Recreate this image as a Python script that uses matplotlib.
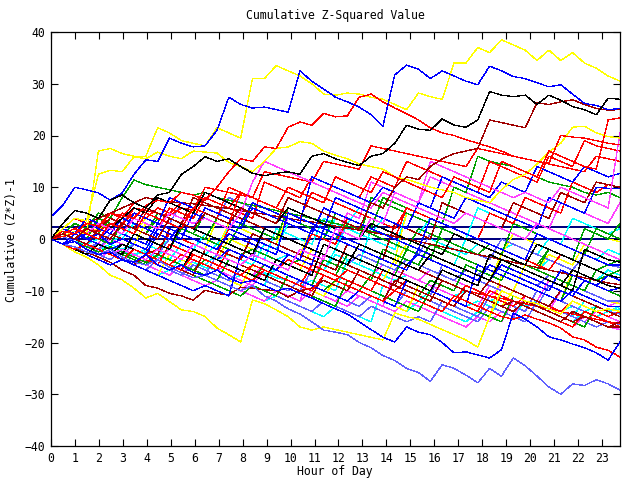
import numpy as np
import matplotlib
matplotlib.use("Agg")
import matplotlib.pyplot as plt

TITLE = "Cumulative Z-Squared Value"
XLABEL = "Hour of Day"
YLABEL = "Cumulative (Z*Z)-1"
X_TICKS = list(range(0, 24))
Y_TICKS = [-40, -30, -20, -10, 0, 10, 20, 30, 40]
X_END = 23.75
REF_LEVELS = [0.0, 2.3]

# half-hour samples from hour 0 to 23.75
yellow_top = [0,1,2,1,17, 17.5,16.5,16,16,21.5, 20.5,19,18.5,18,21.5, 20.5,19.5,31,31,33.5, 32.5,31.5,30,28,27.8, 28.2,28,27.4,27,26, 25,28.2,27.5,27,34, 34,37,36,38.5,37.5, 36.5,34.5,36.5,34.5,36, 34,33,31.5,30.5]
yellow_bottom = [0,-1,-2.5,-3.5,-5, -7,-7.9,-9.5,-11.4,-10.5, -12.1,-13.7,-14,-15,-17.2, -18.5,-19.9,-11.8,-12.5,-13.7, -15,-17,-17.6,-17,-17.5, -18,-18.5,-19,-19.5,-14.3, -15,-15.5,-16.5,-17.5,-18.5, -19.5,-20.9,-15,-10,-11, -12,-12.5,-13.5,-14.5,-12, -13,-14,-13.5,-14]
blue_top = [4.3,6.5,10,9.5,8.9, 7.5,8.9,12.5,15.3,15, 19.5,18.5,17.8,18,21, 27.4,26,25.3,25.5,25, 24.5,32.5,30.5,29,27.4, 26.5,25.5,24,21.8,31.7, 33.6,32.8,31,32.5,31.5, 30.5,29.8,33.4,32.5,31.4, 31,30.2,29.4,29.8,28, 26.2,25.8,25,25.2]
black_top = [0,3,5.5,5,4, 7.5,8.5,7,6,8.5, 9,12.5,14,15.9,15, 15.5,14,12.7,12.2,12.7, 13,12.5,16,16.5,15.5, 14.8,14.2,16,16.5,18.5, 22,21.2,21,23.2,22, 21.6,23,28.5,27.8,27.5, 27.8,26,27.8,26.8,25.6, 25,24,27.2,27]
slate_bottom = [0,-1,-1.5,-2.5,-3, -2,-3.5,-4.5,-5,-4, -5.5,-6.5,-7.5,-7,-8, -9,-10,-9,-11,-12, -13.5,-14.5,-16,-17.6,-18, -18.5,-20,-21,-22.5,-23.5, -25,-25.8,-27.5,-24.3,-25, -26.3,-27.8,-25,-26.5,-23, -24.5,-26.5,-28.6,-30,-28, -28.3,-27.2,-28,-29.2]
blue_low = [0,-1,-0.5,-2,-3, -2.5,-4,-4.5,-3,-5, -6,-5,-6.5,-7,-6, -7.5,-8.5,-8,-9,-10, -9.5,-10.5,-11.4,-12.5,-13.5, -14.5,-16,-17.5,-19,-19.9, -17,-18,-18.5,-20,-22, -21.8,-22.4,-23,-21.4,-14.3, -15.5,-17,-18.9,-19.5,-20.3, -21,-22,-23.4,-19.9]
red_1 = [0,1.5,1,3,2.5, 5,4.5,4,6.5,7.5, 7,9,8.5,7.5,10, 13,15.5,15,17.8,17.5, 21.6,22.6,22,24.3,23.6, 23.8,27.4,28,26.5,25.3, 24.2,23,21.5,20.5,20, 19.2,18.5,17.8,17,16, 15.5,15,14.6,20,19.7, 19.5,19,18.5,18.2]
darkred_1 = [0,1,0,2,1, 0,3,2,1,0, 4,3,2,5,4, 3,6,5,4,3, 8,7,6,5,4, 3,2,7,6,10, 12,11.5,14,15.5,16.5, 17,17.5,23,22.5,22, 21.5,26.3,26,26.5,26.9, 26,25.2,24.9,25]
red_bottom = [0,-1,-2,-1,-2, -3,-4,-2,-3,-4, -5,-6,-3,-4,-5, -6,-7,-5,-6,-7, -8,-9,-10,-7,-8, -9,-10,-11,-12,-10, -11,-12,-13,-14,-11, -12,-13,-14,-15,-15.5, -14.7,-15.5,-16.2,-17.2,-18.9, -19.5,-20.9,-21.5,-22.8]
red_jump = [0,1,2,1,0, 3,2,1,5,4, 3,2,6,5,4, 3,9,8,7,6, 10,9,8,7,12, 11,10,9,13,12, 11,10,9,8,12, 11,10,9,15,14, 13,12,17,16,15, 14,13.5,23,23.4]
yellow_2 = [0,2,4,3.5,12.5, 13.3,13,15.9,15.5,16.8, 16,15.5,17,16.8,16.6, 14.8,14,13,15,17.5, 17.8,18.8,18.5,17,16.2, 15.5,14.5,14,13.5,12, 11.5,10.8,10,9.5,9, 8,7.5,7,9.5,11.5, 12.5,14.5,16.8,18.5,21.6, 21.8,20.5,19.8,19.5]
red_i1 = [0,-1,-2,-1,-2, -3,-4,-2,-3,-4, -5,-3,-4,-5,-6, -2,-3,-4,-5,-6, -4,-5,-6,-7,-8, -6,-7,-8,-9,-10, -8,-9,-10,-11,-12, -9,-10,-11,-12,-13, -11,-12,-13,-14,-12, -13,-14,-15,-14]
green_i2 = [0,2,1,0,4, 3,2,1,5,4, 3,2,1,0,4, 3,2,7,6,5, 4,3,2,1,0, 3,2,1,0,-1, -2,2,1,0,-1, -2,-3,-1,-2,-3, -4,-5,-2,-3,-4, -5,-6,-7,-6]
blue_i3 = [0,-1,1,0,-1, -2,-1,-2,-3,1, 0,-1,-2,-3,-4, -2,-3,-4,-5,-6, -3,-4,-5,2,1, 0,-1,-2,-3,-4, -5,-3,-4,-5,-6, -7,-8,-5,-6,-7, -8,-9,-10,-6,-7, -8,-9,-7,-8]
magenta_i4 = [0,1,0,-1,-2, 0,-1,-2,-3,-4, -2,-3,-4,-5,-6, -5,-6,-7,-5,-6, -7,-8,-9,-3,-4, -5,-6,-7,-5,-6, -7,-8,-6,-7,-8, -9,-10,-11,-9,-10, -11,-12,-8,-9,-10, -11,-12,-13,-12]
magenta_1 = [0,1,2,1,3, 2,1,4,3,2, 5,4,3,4,3, 2,5,11,15,14, 13,12,11,10,9, 8,7,6,9,8, 7,6,5,4,3, 5,4,3,2,1, 0,3,2,1,0, -1,-2,-3,-4]
magenta_2 = [0,-1,-2,-1,-2, -3,-2,-3,-4,-2, -3,-4,-1,-2,-3, -4,-5,-3,-4,-5, -6,-2,-3,-4,2, 1,0,4,3,9, 8,7,15,14,13, 12,11,10,9,8, 9,8,7,10,9, 8,7,6,20.5]
cyan_1 = [0,-1,-2,-1,-2, -3,-4,-3,-4,-5, -6,-4,-5,-6,-7, -8,-7,-8,-9,-4, -3,-4,-5,-6,-2, 3,2,1,4,3, 2,1,0,-1,-2, -3,-1,-2,-3,-4, -5,-6,-4,-5,-6, -7,-8,-6,-7]
cyan_2 = [0,1,0,-1,0, -1,-2,-1,-2,-3, -2,-3,-4,-5,-3, -4,-5,-6,-7,-6, -7,-8,-9,-10,-11, -12,-10,-11,-12,-13, -14,-12,-13,-14,-15, -16,-14,-15,-11,-12, -13,-12,-13,-14,-15, -12,-13,-14,-13]
cyan_3 = [0,1,2,1,0, -1,1,0,-1,-2, 0,-1,-2,-3,-1, 2,1,0,-1,-2, 3,2,1,0,4, 3,6,5,4,3, 2,1,4,3,2, 1,0,-1,-2,-1, -2,-3,0,-1,-2, -3,-4,-2,-3]
green_top = [0,-1,0,1,0, -1,3,2,1,4, 3,2,1,5,4, 3,2,6,5,4, 3,2,1,0,5, 4,3,2,8,7, 6,5,4,3,10, 9,16,15,14.5,14, 13,12,11,10.5,10, 9,8.5,9,8]
green_low = [0,-1,-2,-3,-1, -2,-3,-4,-5,-3, -4,-5,-6,-4,-5, -6,-7,-8,-5,-6, -7,-8,-9,-10,-8, -9,-10,-7,-8,-9, -10,-11,-8,-9,-10, -5,-6,-7,-8,-4, -5,-6,-7,-8,-9, -10,-6,-5,-4]
green_1 = [0,1,3,2,5, 4,8,11.4,10.5,10, 9.5,9,8.5,9,8, 7.5,7,6.5,6,5.5, 5,4.5,4,3.5,3, 2.5,2,1.5,1,0.5, 0,-0.5,-1,-1.5,-2, -2.5,-3,-3.5,-4,-4.5, -5,-5.5,-6,-6.5,-7, -7.5,-8,-7,-7.5]
darkred_diag = [0,1,2,3,4, 5,6,7,8,7.5, 7.2,7,6.8,6.5,6.2, 5.9,5.5,5.1,4.8,4.4, 4,3.6,3.3,2.9,2.5, 2.1,1.7,1.3,0.9,0.5, 0,-0.5,-1,-1.5,-2, -2.5,-3,-3.5,-4,-4.5, -5,-5.5,-6,-6.5,-7, -7.5,-8,-8.5,-8.8]
red_diag = [0,2,1,3,2, 4,3,5,4,6, 5,7,6,8,7, 6,9,8,7,6, 5,4,3,2,1, 0,-1,-2,-3,-4, -5,-6,-7,-8,-9, -10,-10.5,-11,-11.5,-12, -12.5,-13,-13.5,-14,-14.5, -15,-15.5,-16,-16.3]
darkred_2 = [0,-1,-2,-2.5,-3.5, -4.5,-6,-7,-9,-9.5, -10.5,-11,-11.8,-9.9,-10.5, -10.8,-9.3,-9.5,-9.8,-10, -11.2,-10,-9.5,-8,-9, -10,-6,-7,-8,-9, -5,-6,-7,-8,-9, -10,-11,-8,-9,-10, -11,-12,-13,-10,-11, -12,-13,-14,-15]
slate_2 = [0,-1,-2,-3,-2, -3,-4,-5,-6,-4, -5,-6,-7,-8,-9, -10,-11,-9,-10,-11, -12,-13,-14,-12,-13, -14,-15,-13,-14,-15, -16,-15,-16,-12,-13, -14,-15,-11,-12,-13, -14,-10,-11,-12,-13, -14,-15,-16,-16.5]
slate_3 = [0,1,0,-1,-2, 1,0,-1,-2,-3, 0,-1,-2,-3,-4, -2,-3,-4,2,1, 0,-1,-2,-3,-4, -5,-3,-4,-5,-6, -4,-5,-6,-7,-8, -6,-7,-5,-6,-7, -8,-9,-7,-8,-9, -10,-11,-12,-12]
slate_4 = [0,-1,-2,-1,-3, -4,-2,-3,-4,-5, -6,-7,-5,-6,-7, -8,-6,-7,-8,-9, -10,-8,-9,-10,-11, -12,-13,-11,-12,-13, -10,-11,-12,-13,-14, -15,-16,-13,-14,-15, -16,-12,-13,-14,-15, -16,-17,-16,-17]
slate_5 = [0,1,3,2,5, 4,3,6,5,4, 3,7,6,5,4, 8,7,6,5,4, 3,2,1,0,-1, 3,2,1,0,-1, -2,-3,1,0,-1, -2,-3,-4,0,-1, -2,-3,-4,-5,-6, -3,-4,-5,-5.5]
blue_4 = [0,1,2,0,1, -1,0,-1,-2,2, 1,0,5,4,3, 2,1,0,-1,-2, -3,-4,2,1,0, -1,-2,-3,-4,-5, -6,-2,-3,-4,-5, -6,-7,-8,-5,-6, -7,-8,-9,-10,-11, -8,-9,-10,-9.5]
blue_5 = [0,2,1,3,2, 1,4,3,2,1, 0,3,2,6,5, 4,3,7,6,5, 4,3,12,11,10, 9,8,7,10,9, 8,7,6,12,11, 10,9,8,11,10, 9,14,13,12,11, 14,13,12,12.7]
blue_6 = [0,-1,0,1,0, 2,1,0,-1,3, 2,1,0,-1,-2, 1,0,-1,-2,-3, 5,4,3,2,8, 7,6,5,4,3, 2,7,6,5,4, 8,7,6,5,4, 3,2,8,7,6, 5,10,9.8,9.7]
blue_7 = [0,-1,-2,-3,-4, -5,-4,-5,-6,-7, -8,-9,-10,-9,-10, -11,-3,-4,-5,-6, -7,-8,-9,-10,-11, -12,-10,-11,-12,-13, -8,-9,-10,-11,-12, -13,-5,-6,-7,-8, -9,-10,-11,-12,-10, -11,-12,-13,-13]
red_4 = [0,1,2,1,3, 2,5,4,3,2, 6,5,4,8,7, 6,5,4,11,10, 9,8,12,11,10, 9,8,12,11,10, 15,14,13,12,11, 10,9,15,14,13, 12,11,16,15,14, 19,18,17.5,17]
red_5 = [0,-1,1,0,-1, -2,-1,-2,-3,-2, 1,0,-1,-2,-3, 2,1,0,-1,-2, -3,-4,1,0,-1, 4,3,2,1,0, 6,5,4,3,2, 1,0,5,4,3, 8,7,6,5,11, 10,9,10.5,10]
red_6 = [0,0.5,1,2,1.5, 3,2.5,6,5.5,5, 4.5,6,5.5,10,9.5, 9,8.5,8,13,12.5, 12,11.5,11,15,14.5, 14,13.5,18,17.5,17, 16.5,16,15.5,15,14.5, 14,17.5,17,16.5,16, 15.5,15,14.5,14,13.5, 13,16,15.5,15]
red_7 = [0,2,4,3,2, 5,4,7,6,5, 4,3,6,5,4, 10,9,8,7,6, 5,4,9,8,7, 6,5,4,3,2, 6,5,4,3,2, 1,0,-1,-2,-3, -4,-5,-6,-3,-4, -5,-6,-7,-8]
black_3 = [0,-1,-2,-3,-1, -2,-3,1,0,-1, -2,3,2,1,0, -1,-2,-3,2,1, 0,-1,-2,-3,-4, -5,-1,-2,-3,-4, -5,-6,-3,-4,-5, -6,-7,-8,-4,-5, -6,-7,-8,-9,-6, -7,-8,-9,-9.5]
black_4 = [0,1,2,1,3, 2,4,6,5,8, 7,6,5,9,8, 7,6,5,4,3, 6,5,4,3,2, 1,0,3,2,1, 0,-1,-2,-3,1, 0,-1,-2,-3,-4, -5,-1,-2,-3,-4, -5,-6,-7,-7.5]
black_5 = [0,-1,-2,-1,-2, -3,-1,-2,-3,-4, -5,-6,-2,-3,-4, -5,-6,-7,-8,-4, -5,-6,-7,-1,-2, -3,-4,-5,-6,-7, -8,-9,-10,-6,-7, -8,-9,-3,-4,-5, -6,-7,-8,-9,-10, -2,-3,-4,-4.5]
yellow_3 = [0,-1,-2,-3,-4, -5,-4,-5,-6,-7, -3,-4,-5,-6,-7, -8,-9,-5,-6,-7, -8,-9,-10,-11,-8, -9,-10,-11,-12,-13, -14,-9,-10,-11,-12, -13,-14,-15,-7,-8, -9,-10,-11,-12,-6, -7,-8,-9,-9.5]
yellow_4 = [0,1,0,-1,-2, -3,-1,-2,-3,1, 0,-1,-2,-3,-4, 0,-1,-2,-3,-4, -5,-6,-2,-3,-4, -5,-6,-7,-8,-4, -5,-6,-7,-8,-9, -10,-11,-12,-13,-10, -5,-6,-3,-4,-5, -1,-2,-3,-4]
yellow_5 = [0,1,2,3,2, 1,0,-1,3,2, 1,0,-1,-2,4, 3,2,1,0,-1, 5,4,3,2,1, 0,-1,-2,-3,-4, 5,4,3,2,1, 0,-1,-2,-3,1, 0,-1,-2,-3,-4, 2,1,0,-0.5]
magenta_3 = [0,-1,-2,-3,-4, -2,-3,-4,-5,-6, -7,-5,-6,-7,-8, -9,-10,-8,-9,-10, -11,-12,-10,-11,-12, -13,-11,-12,-13,-14, -12,-13,-14,-15,-16, -17,-15,-16,-14,-15, -11,-12,-13,-14,-15, -16,-14,-15,-16]
magenta_4 = [0,2,1,0,-1, 3,2,1,0,-1, -2,2,1,0,4, 3,2,1,0,-1, 4,3,2,1,0, 5,4,11,10,9, 8,7,12,11,10, 9,8,7,6,5, 4,3,2,7,6, 5,4,3,7]
magenta_5 = [0,-1,0,-1,-2, -3,-4,-3,-4,-5, -6,-7,-8,-9,-8, -9,-10,-11,-12,-10, -11,-12,-5,-6,-7, -8,-9,-10,-11,-12, -13,-14,-10,-11,-12, -13,-14,-15,-16,-12, -13,-14,-15,-16,-17, -15,-16,-17,-17.5]
cyan_4 = [0,-1,-0.5,-1.5,-2, -1,-2,-3,-2.5,-3.5, -4,-5,-4.5,-5.5,-6, -5,-6,-7,-6.5,-7.5, -8,-9,-8,-9,-10, -4,-5,-6,-7,-8, -7,-8,-9,-10,-11, -10,-11,-12,-11,-12, -13,-12,-13,-14,-13, -14,-15,-14,-14.5]
cyan_5 = [0,0.5,-0.5,-1,-2, -1.5,-2.5,-3,-2,-3, -4,-1,-2,-3,-4, -3,-4,-5,-1,-2, -3,-4,-5,-6,-3, -4,-5,2,1,0, -1,-2,-3,-4,-5, 0,-1,-2,-3,-4, -5,-6,-2,-3,-4, -5,-6,-7,-7.5]
cyan_6 = [0,-1,-2,-3,-2, -3,-4,-5,-6,-7, -6,-7,-8,-9,-8, -9,-10,-11,-12,-11, -12,-13,-14,-15,-13, -14,-15,-16,-9,-10, -11,-12,-10,-11,-12, -13,-12,-13,-14,-15, -12,-13,-14,-15,-16, -14,-13,-14,-13.5]
green_4 = [0,-1,-2,-1,-2, -3,-4,-5,-3,-4, -5,-6,-7,-8,-9, -10,-11,-9,-10,-11, -7,-8,-9,-4,-5, -6,-7,-8,-2,-3, -4,-5,-1,-2,-3, -4,-5,-6,-7,-8, -9,-10,-11,-12,-7, -8,-9,-10,-11]
green_5 = [0,1,2,1,0, 3,2,1,0,-1, -2,2,1,0,-1, -2,-3,-2,-3,-4, -5,-4,-5,-6,-7, -3,-4,-5,-6,-7, -2,-3,-4,2,1, 0,-1,-2,-3,3, 2,1,0,-1,-2, -3,2,1,0]
green_6 = [0,1,0,2,1, 4,3,2,1,5, 4,3,2,1,0, -1,3,2,1,0, 6,5,4,3,2, 1,0,8,7,6, 5,4,3,2,1, 0,-1,-2,-3,-4, -5,-6,-2,-3,-4, 2,1,0,3]
darkred_3 = [0,1,0,-1,2, 1,0,-1,-2,-3, 2,1,0,-1,-2, -3,-4,1,0,-1, -2,-3,-4,-5,-6, -1,-2,-3,-4,3, 2,1,0,7,6, 5,4,3,2,7, 6,5,4,9,8, 7,11,10.5,10]
darkred_4 = [0,-1,-2,-1,-2, -3,-4,-5,-3,-4, -5,-6,-7,-2,-3, -4,-5,-6,-7,-8, -9,-10,-11,-7,-8, -9,-10,-11,-12,-8, -9,-10,-11,-12,-13, -10,-11,-12,-13,-12, -13,-14,-15,-16,-14, -15,-16,-17,-16]
darkred_5 = [0,1,2,3,2, 4,3,2,6,5, 4,3,8,7,6, 5,4,3,2,1, 0,-1,-2,-3,-4, -5,-6,-7,-8,-9, -10,-11,-12,-8,-9, -10,-11,-12,-13,-14, -12,-13,-14,-15,-16, -15,-16,-17,-17]
red_bottom_2 = [0,1,0,-1,-2, -3,-2,-3,-4,-5, -1,-2,-3,-4,-5, -6,-7,-8,-6,-7, -8,-9,-5,-6,-7, -8,-9,-10,-6,-7, -8,-9,-10,-11,-12, -13,-14,-10,-11,-12, -13,-14,-15,-16,-17, -14,-15,-16,-17]
blue_8 = [0,2,1,4,3, 2,1,5,4,3, 8,7,6,5,4, 3,2,6,5,4, 3,2,1,6,5, 4,3,2,1,0, -1,-2,4,3,2, 1,0,-1,-2,-3, -4,1,0,-1,-2, -3,-4,-5,-5]
cyan_7 = [0,1,0,1,2, 1,0,3,2,1, 0,-1,-2,1,0, -1,-2,-3,-4,2, 1,0,-1,4,3, 2,1,0,-1,-2, 5,4,3,2,1, 0,6,5,4,3, 2,1,0,-1,4, 3,2,1,2]
magenta_6 = [0,-1,-2,-3,-2, -3,-4,-5,-4,-5, -6,-7,-4,-5,-6, -7,-8,-9,-6,-7, -8,-9,-10,-11,-12, -10,-11,-12,-13,-6, -7,-8,-9,-10,-11, -12,-13,-9,-10,-11, -12,-13,-14,-10,-11, -12,-13,-14,-15]
slate_6 = [0,0.5,-0.5,-1.5,-1, -2,-3,-1,-2,-3, -4,-5,-6,-7,-3, -4,-5,-6,-7,-8, -9,-10,-6,-7,-8, -9,-10,-11,-12,-8, -9,-10,-11,-5,-6, -7,-8,-9,-10,-11, -12,-13,-9,-10,-11, -12,-13,-14,-14.5]
green_7 = [0,-1,-0.5,-1.5,-2.5, -1.5,-2.5,-3.5,-4.5,-3, -4,-5,-6,-7,-8, -4,-5,-6,-7,-8, -9,-10,-11,-12,-13, -8,-9,-10,-11,-12, -13,-14,-10,-11,-12, -13,-14,-15,-16,-11, -12,-13,-14,-15,-16, -17,-13,-14,-15]
yellow_6 = [0,0.5,1.5,1,2, 3,2,1,4,3, 2,1,0,-1,-2, 3,2,1,0,-1, -2,-3,2,1,0, -1,-2,-3,-4,-5, -1,-2,-3,-4,-5, -6,-7,-8,-3,-4, -5,-6,-7,-8,-9, -10,-11,-12,-12.5]

RED = "#ff0000"; GREEN = "#00a000"; BLUE = "#0000ff"; MAGENTA = "#ff40ff"
CYAN = "#00ffff"; YELLOW = "#ffff00"; BLACK = "#000000"; DARKRED = "#a00000"
SLATE = "#6060ff"; NAVY = "#000080"

SERIES = [
    (cyan_4, CYAN), (cyan_2, CYAN), (cyan_1, CYAN), (cyan_3, CYAN), (cyan_5, CYAN), (cyan_6, CYAN), (cyan_7, CYAN),
    (magenta_3, MAGENTA), (magenta_4, MAGENTA), (magenta_i4, MAGENTA), (magenta_5, MAGENTA), (magenta_6, MAGENTA),
    (yellow_3, YELLOW), (yellow_4, YELLOW), (yellow_5, YELLOW), (yellow_6, YELLOW),
    (slate_2, SLATE), (slate_3, SLATE), (slate_4, SLATE), (slate_5, SLATE), (slate_6, SLATE),
    (green_4, GREEN), (green_low, GREEN), (green_i2, GREEN), (green_1, GREEN), (green_top, GREEN),
    (green_5, GREEN), (green_6, GREEN), (green_7, GREEN),
    (red_i1, RED), (red_5, RED), (red_bottom_2, RED), (red_diag, RED), (red_4, RED), (red_6, RED), (red_7, RED),
    (darkred_2, DARKRED), (darkred_3, DARKRED), (darkred_4, DARKRED), (darkred_diag, DARKRED), (darkred_5, DARKRED),
    (blue_i3, BLUE), (blue_4, BLUE), (blue_5, BLUE), (blue_6, BLUE), (blue_7, BLUE), (blue_8, BLUE),
    (black_3, BLACK), (black_4, BLACK), (black_5, BLACK),
    (magenta_1, MAGENTA), (magenta_2, MAGENTA),
    (yellow_2, YELLOW), (yellow_bottom, YELLOW), (yellow_top, YELLOW),
    (red_1, RED), (red_jump, RED), (red_bottom, RED), (darkred_1, DARKRED),
    (slate_bottom, SLATE), (blue_low, BLUE), (blue_top, BLUE), (black_top, BLACK),
]

plt.rcParams["font.family"] = ["DejaVu Sans Mono"]

fig = plt.figure(figsize=(6.4, 4.8), dpi=100)
ax = fig.add_axes([51/640, 34/480, 569/640, 414/480])

for lvl in REF_LEVELS:
    ax.plot([0, X_END], [lvl, lvl], color=NAVY, lw=0.3, zorder=1, antialiased=False)
for vals, col in SERIES:
    x = np.linspace(0, X_END, len(vals))
    ax.plot(x, vals, color=col, lw=0.2, zorder=2, antialiased=False)

ax.set_xlim(0, X_END)
ax.set_ylim(-40, 40)
ax.set_xticks(X_TICKS)
ax.set_yticks(Y_TICKS)
ax.tick_params(direction="in", length=5, width=0.8, top=True, right=True,
               labelsize=8.3, pad=4, colors="black")
for s in ax.spines.values():
    s.set_linewidth(0.9)

fig.text(335/640, 1 - 15/480, TITLE, ha="center", va="center", fontsize=8.3)
fig.text(335/640, 1 - 472/480, XLABEL, ha="center", va="center", fontsize=8.3)
fig.text(12/640, 1 - 240/480, YLABEL, ha="center", va="center", rotation=90, fontsize=8.3)

fig.savefig("out.png", dpi=100)
